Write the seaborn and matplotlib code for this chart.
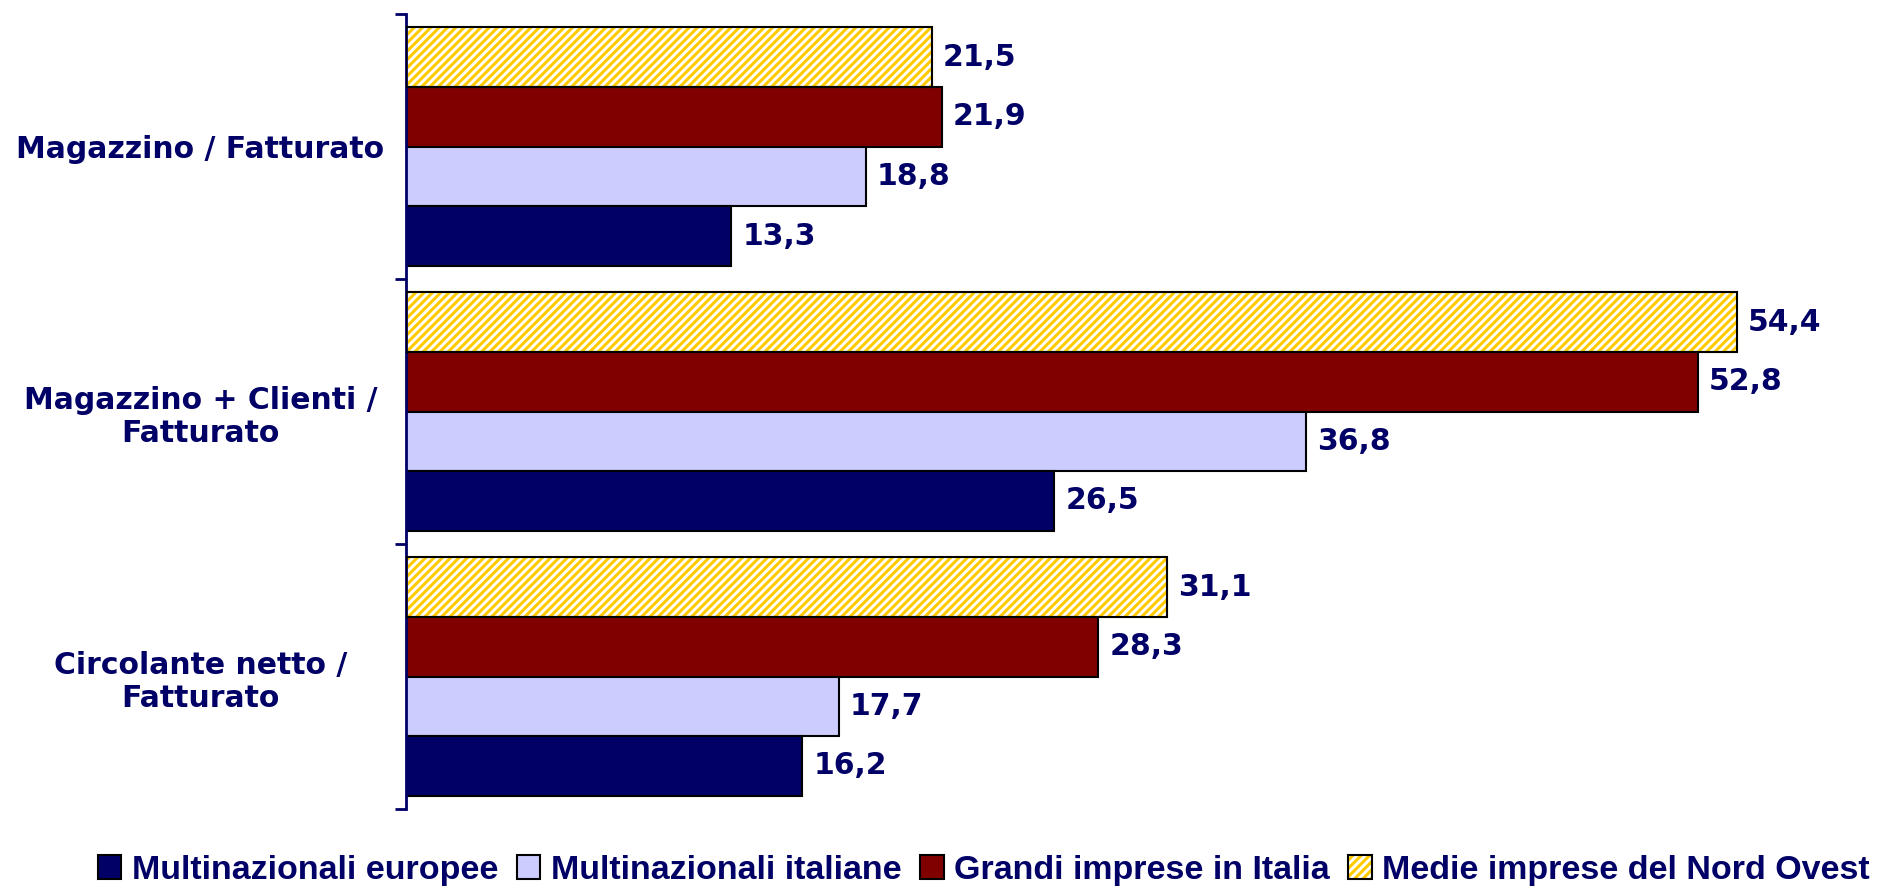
import numpy as np
import pandas as pd
import matplotlib
matplotlib.use("Agg")
import matplotlib.pyplot as plt
import matplotlib.patches as mpatches
import seaborn as sns

# dati
indicatori = ["Magazzino / Fatturato",
              "Magazzino + Clienti /\nFatturato",
              "Circolante netto /\nFatturato"]
serie = ["Multinazionali europee", "Multinazionali italiane",
         "Grandi imprese in Italia", "Medie imprese del Nord Ovest"]
multinaz_europee = [13.3, 26.5, 16.2]
multinaz_italiane = [18.8, 36.8, 17.7]
grandi_imprese = [21.9, 52.8, 28.3]
medie_imprese_no = [21.5, 54.4, 31.1]

colori = {"Multinazionali europee": "#000066",
          "Multinazionali italiane": "#CCCCFF",
          "Grandi imprese in Italia": "#800000",
          "Medie imprese del Nord Ovest": "#FFFFFF"}
giallo = "#FFCC00"
blu_testo = "#000066"

df = pd.DataFrame({
    "indicatore": indicatori * 4,
    "serie": np.repeat(serie, 3),
    "valore": multinaz_europee + multinaz_italiane + grandi_imprese + medie_imprese_no,
})

sns.set_style("white")
plt.rcParams["font.family"] = ["DejaVu Sans"]
plt.rcParams["hatch.linewidth"] = 2.2

fig = plt.figure(figsize=(18.81, 8.88), dpi=100)
ax = fig.add_axes([0.2158, 0.089, 0.7842, 0.895])

ordine_barre = serie[::-1]  # dall'alto: Medie, Grandi, italiane, europee
sns.barplot(data=df, x="valore", y="indicatore", hue="serie", hue_order=ordine_barre,
            order=indicatori, palette=colori, saturation=1, width=0.9, edgecolor="black",
            linewidth=1.5, orient="h", legend=False, ax=ax)

for nome, cont in zip(ordine_barre, ax.containers):
    if nome == "Medie imprese del Nord Ovest":
        for p in cont.patches:
            p.set_facecolor("white")
            p.set_edgecolor(giallo)
            p.set_hatch("////")
            ax.add_patch(mpatches.Rectangle(p.get_xy(), p.get_width(), p.get_height(),
                                            fill=False, ec="black", lw=1.5, zorder=3))
    etichette = [f"{v:.1f}".replace(".", ",") for v in cont.datavalues]
    ax.bar_label(cont, labels=etichette, padding=8, color=blu_testo,
                 fontsize=21.5, fontweight="bold")

ax.set_xlim(0, 60.3)
ax.set_ylim(2.5, -0.5)
ax.set_xlabel("")
ax.set_ylabel("")
ax.set_xticks([])
ax.set_yticks([-0.5, 0.5, 1.5, 2.5], minor=True)
ax.tick_params(axis="y", which="minor", length=8, width=2, color=blu_testo, left=True)
ax.tick_params(axis="y", which="major", length=0, pad=148)
for lab in ax.get_yticklabels():
    lab.set_ha("center")
    lab.set_multialignment("center")
    lab.set_fontsize(21.5)
    lab.set_fontweight("bold")
    lab.set_color(blu_testo)

for s in ["top", "right", "bottom"]:
    ax.spines[s].set_visible(False)
ax.spines["left"].set_color(blu_testo)
ax.spines["left"].set_linewidth(2)

handles = [
    mpatches.Patch(facecolor=colori[serie[0]], edgecolor="black", lw=1.5),
    mpatches.Patch(facecolor=colori[serie[1]], edgecolor="black", lw=1.5),
    mpatches.Patch(facecolor=colori[serie[2]], edgecolor="black", lw=1.5),
    (mpatches.Patch(facecolor="white", edgecolor=giallo, hatch="////", lw=0),
     mpatches.Patch(fill=False, edgecolor="black", lw=1.5)),
]
leg = fig.legend(handles, serie, loc="center", bbox_to_anchor=(0.523, 0.02), ncol=4,
                 frameon=False, handlelength=0.7, handleheight=0.7, handletextpad=0.3,
                 columnspacing=0.55,
                 prop={"family": ["Liberation Sans", "DejaVu Sans"],
                       "weight": "bold", "size": 24.5})
for t in leg.get_texts():
    t.set_color(blu_testo)

fig.savefig("out.png", dpi=100)
